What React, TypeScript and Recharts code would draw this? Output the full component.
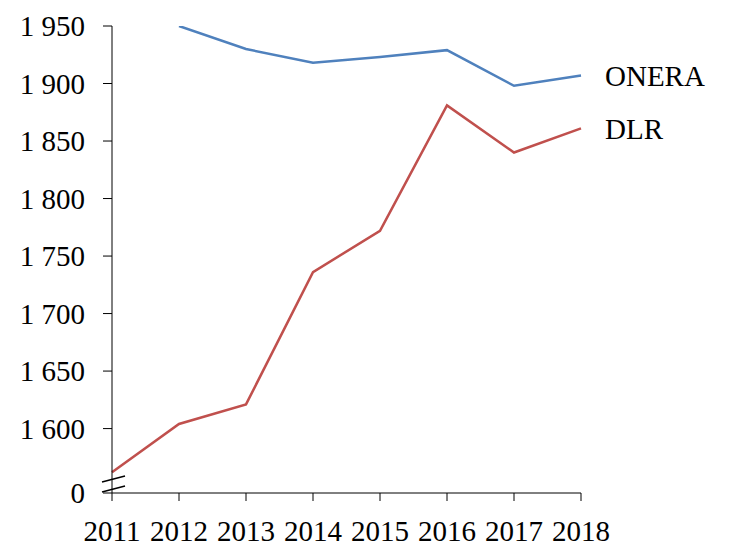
import React from "react";
import { LineChart, Line, XAxis, YAxis, LabelList } from "recharts";

const years = [2011, 2012, 2013, 2014, 2015, 2016, 2017, 2018];
const onera = [null, 1950, 1930, 1918, 1923, 1929, 1898, 1907];
const dlr = [1562, 1604, 1621, 1736, 1772, 1881, 1840, 1861];
const yTicks = [1544, 1600, 1650, 1700, 1750, 1800, 1850, 1900, 1950];
const seriesNames = ["ONERA", "DLR"];

const data = years.map((year, i) => ({ year, onera: onera[i], dlr: dlr[i] }));

const FONT = "'Liberation Serif', serif";

const fmt = (v: number) => (v === yTicks[0] ? "0" : `${Math.floor(v / 1000)} ${String(v % 1000).padStart(3, "0")}`);

function YTick(props: any) {
  const { x, y, payload } = props;
  const isBreak = payload.value === yTicks[0];
  return (
    <g>
      <text x={x} y={y} dy="0.35em" textAnchor="end" fontFamily={FONT} fontSize={29} fill="#000">
        {fmt(payload.value)}
      </text>
      {isBreak && (
        <g stroke="#000" strokeWidth={1.5}>
          <line x1={x + 17} y1={y - 11} x2={x + 40} y2={y - 17} />
          <line x1={x + 17} y1={y - 1} x2={x + 40} y2={y - 7} />
        </g>
      )}
    </g>
  );
}

function endLabel(name: string) {
  return (props: any) => {
    const { x, y, index } = props;
    if (index !== years.length - 1) return null;
    return (
      <text x={x + 24} y={y} dy="0.35em" fontFamily={FONT} fontSize={29} fill="#000">
        {name}
      </text>
    );
  };
}

export default function App() {
  return (
    <div style={{ position: "absolute", left: 0, top: 0 }}>
      <LineChart width={731} height={556} data={data} margin={{ top: 26, right: 150, bottom: 0, left: 0 }}>
        <XAxis
          dataKey="year"
          type="number"
          domain={[2011, 2018]}
          ticks={years}
          stroke="#000"
          tickSize={8}
          tickMargin={19}
          tick={{ fontFamily: FONT, fontSize: 29, fill: "#000" }}
          interval={0}
          height={63}
        />
        <YAxis
          type="number"
          domain={[1544, 1950]}
          ticks={yTicks}
          width={112}
          stroke="#000"
          tickSize={9}
          tickMargin={18}
          tick={<YTick />}
          interval={0}
          allowDataOverflow
        />
        <Line dataKey="onera" stroke="#4f81bd" strokeWidth={2.5} dot={false} isAnimationActive={false} connectNulls={false}>
          <LabelList content={endLabel(seriesNames[0])} />
        </Line>
        <Line dataKey="dlr" stroke="#c0504d" strokeWidth={2.5} dot={false} isAnimationActive={false}>
          <LabelList content={endLabel(seriesNames[1])} />
        </Line>
      </LineChart>
    </div>
  );
}
